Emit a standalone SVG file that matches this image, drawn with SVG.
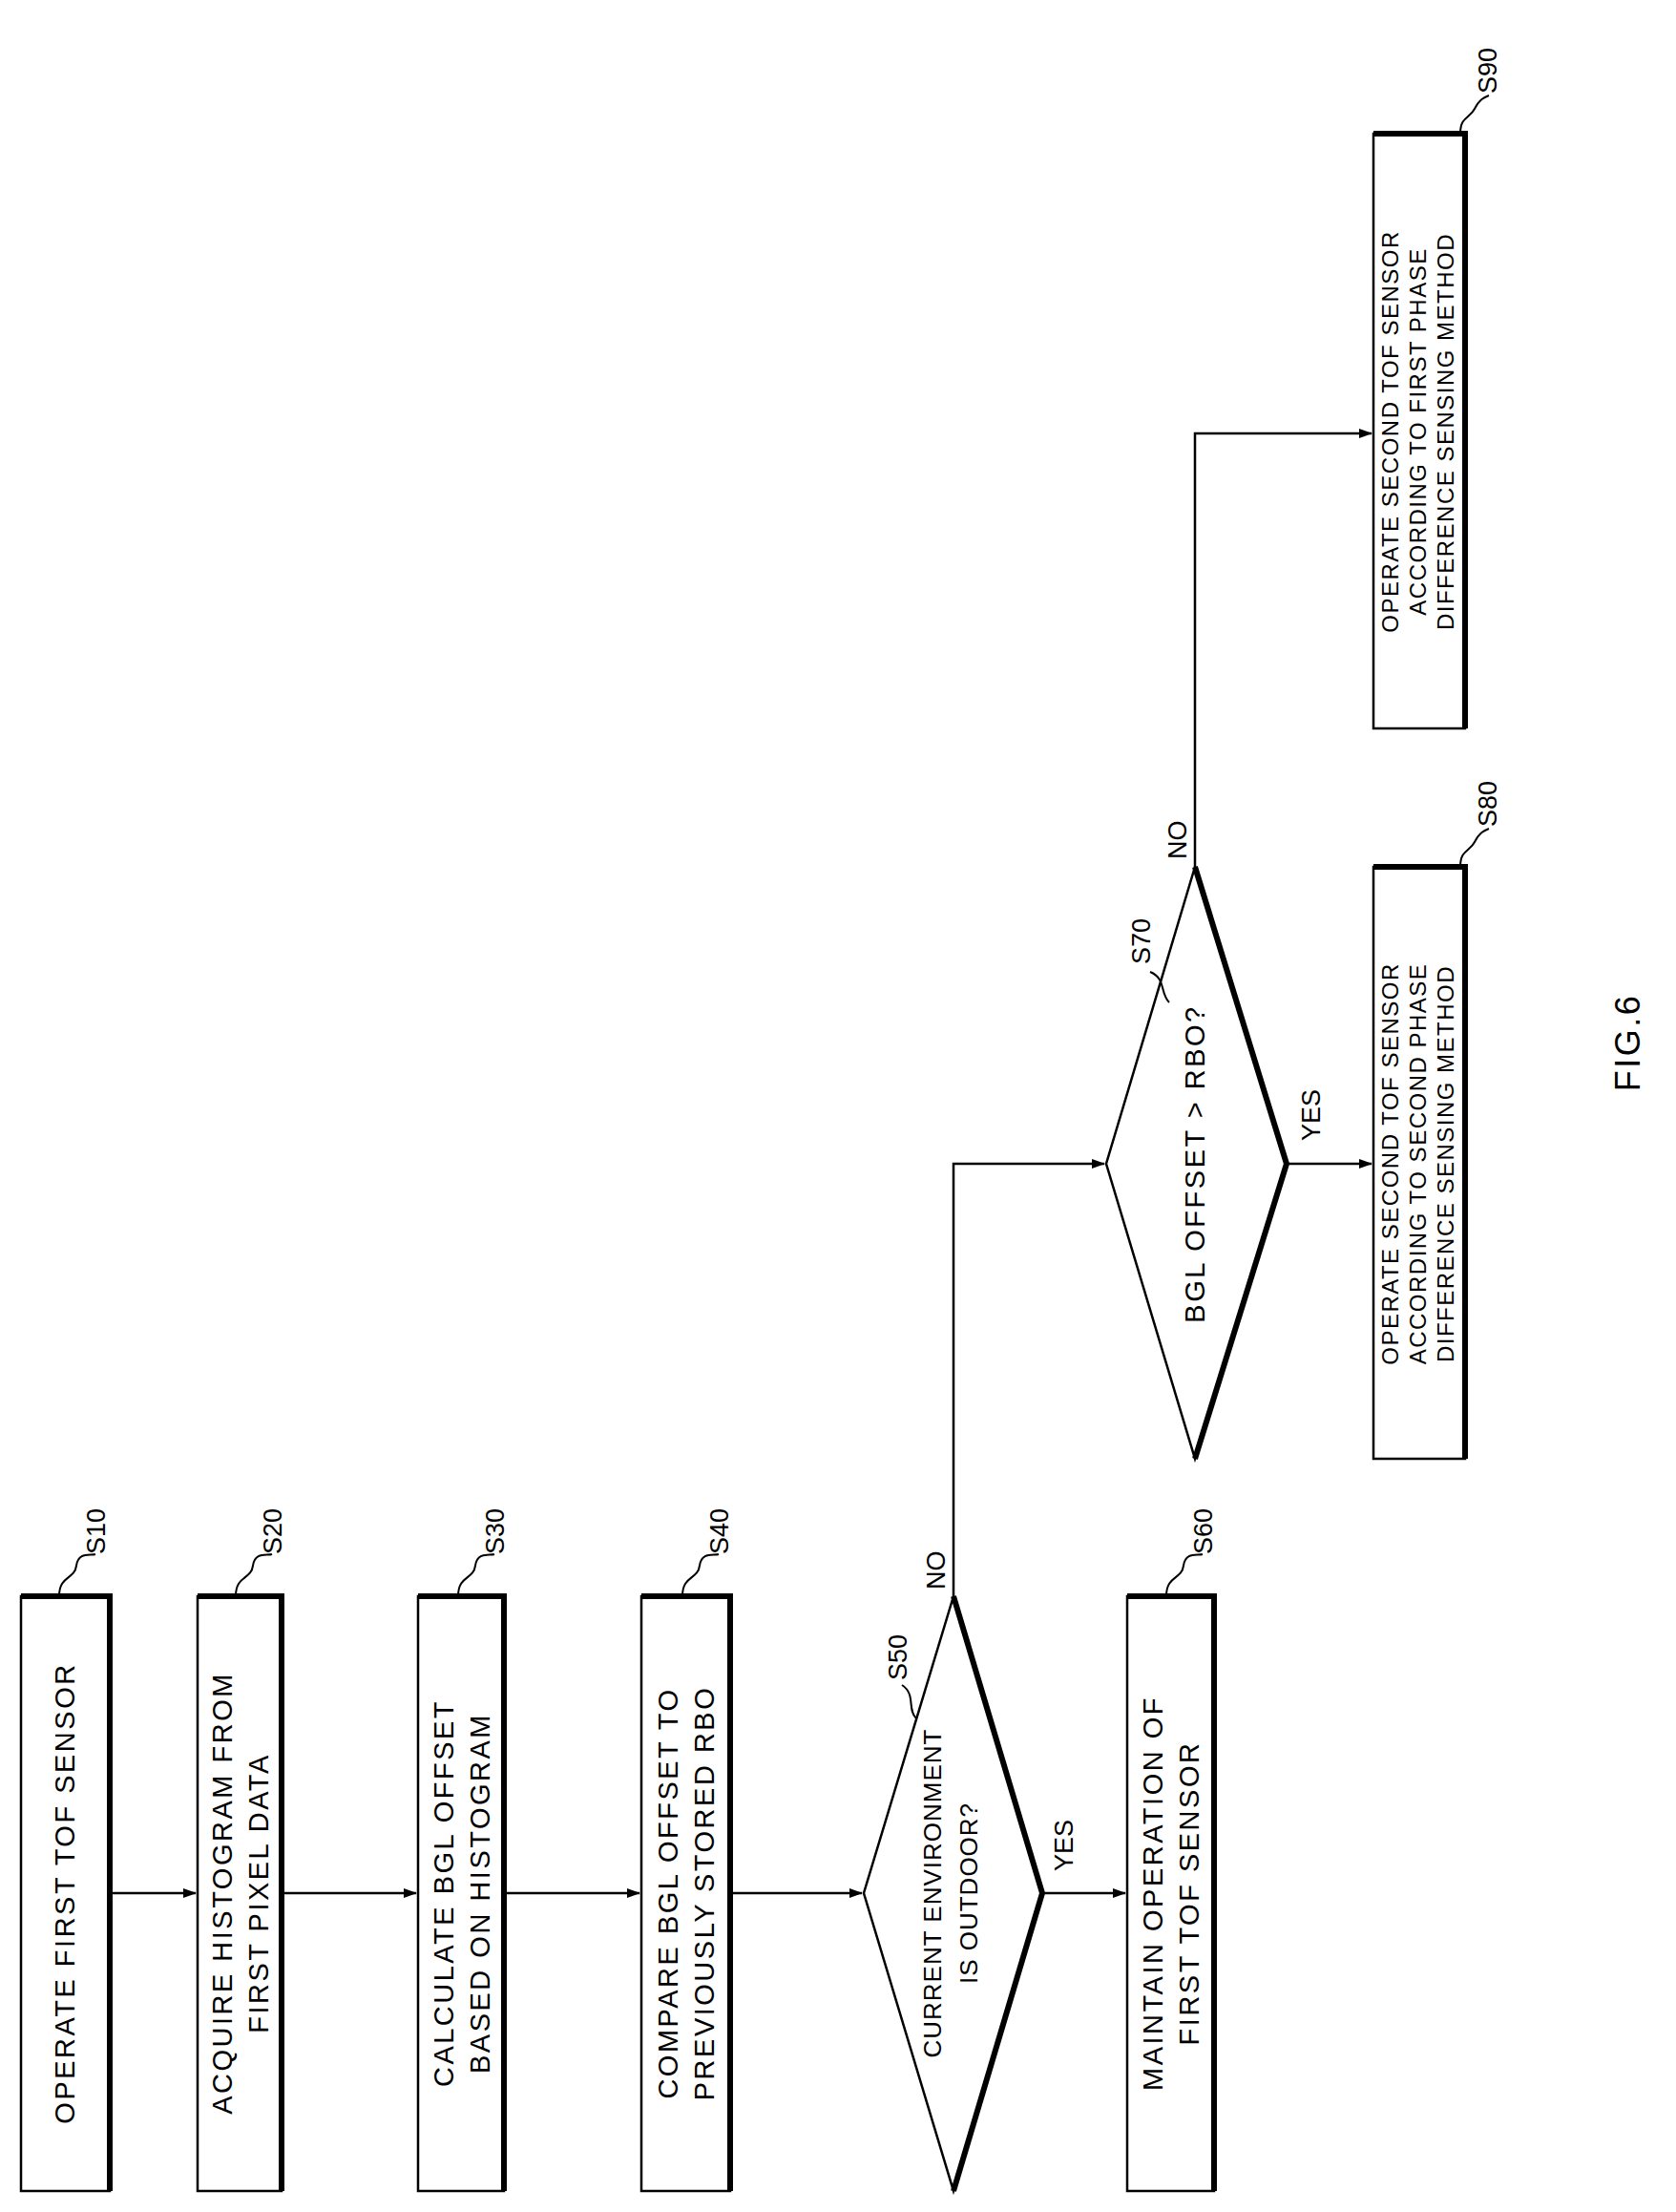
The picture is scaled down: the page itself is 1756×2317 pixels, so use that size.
<svg xmlns="http://www.w3.org/2000/svg" width="1756" height="2317" viewBox="0 0 1756 2317">
<style>
.b{fill:#fff;stroke:#000;stroke-width:2.5}
.sh{fill:none;stroke:#000;stroke-width:6}
.t{font-family:"Liberation Sans",Arial,sans-serif;font-size:29px;letter-spacing:2.5px;fill:#000}
.t2{font-family:"Liberation Sans",Arial,sans-serif;font-size:24px;letter-spacing:1.5px;fill:#000}
.s{font-family:"Liberation Sans",Arial,sans-serif;font-size:27px;fill:#000}
.c{fill:none;stroke:#000;stroke-width:2.5}
.ld{fill:none;stroke:#000;stroke-width:2}
</style>
<defs><marker id="a" markerWidth="14" markerHeight="10" refX="13" refY="5" orient="auto" markerUnits="userSpaceOnUse"><path d="M0,0 L14,5 L0,10 Z" fill="#000"/></marker></defs>
<rect width="1756" height="2317" fill="#fff"/>
<g id="connectors">
<line class="c" x1="115" y1="1983" x2="205" y2="1983" marker-end="url(#a)"/>
<line class="c" x1="295" y1="1983" x2="436" y2="1983" marker-end="url(#a)"/>
<line class="c" x1="528" y1="1983" x2="670" y2="1983" marker-end="url(#a)"/>
<line class="c" x1="765" y1="1983" x2="903" y2="1983" marker-end="url(#a)"/>
<line class="c" x1="1092" y1="1983" x2="1179" y2="1983" marker-end="url(#a)"/>
<polyline class="c" points="999,1672 999,1219 1157,1219" marker-end="url(#a)"/>
<line class="c" x1="1348" y1="1219" x2="1437" y2="1219" marker-end="url(#a)"/>
<polyline class="c" points="1252,908 1252,454 1437,454" marker-end="url(#a)"/>
<text class="s" transform="translate(1124,1960) rotate(-90)">YES</text>
<text class="s" transform="translate(990,1665) rotate(-90)">NO</text>
<text class="s" transform="translate(1383,1195) rotate(-90)">YES</text>
<text class="s" transform="translate(1243,900) rotate(-90)">NO</text>
</g>
<g id="S10">
<rect class="b" x="22" y="1672" width="93" height="623"/><polyline class="sh" points="22,1672 115,1672 115,2295"/>
<text class="t" text-anchor="middle" transform="translate(68,1983) rotate(-90)" dy="10">OPERATE FIRST TOF SENSOR</text>
<path class="ld" d="M62,1672 C62,1650 78,1655 80,1640 S95,1630 100,1628"/><text class="s" transform="translate(110,1628) rotate(-90)">S10</text>
</g>
<g id="S20">
<rect class="b" x="207" y="1672" width="88" height="623"/><polyline class="sh" points="207,1672 295,1672 295,2295"/>
<text class="t" text-anchor="middle" transform="translate(251,1983) rotate(-90)"><tspan x="0" dy="-8">ACQUIRE HISTOGRAM FROM</tspan><tspan x="0" dy="38">FIRST PIXEL DATA</tspan></text>
<path class="ld" d="M247,1672 C247,1650 263,1655 265,1640 S280,1630 285,1628"/><text class="s" transform="translate(295,1628) rotate(-90)">S20</text>
</g>
<g id="S30">
<rect class="b" x="438" y="1672" width="90" height="623"/><polyline class="sh" points="438,1672 528,1672 528,2295"/>
<text class="t" text-anchor="middle" transform="translate(483,1983) rotate(-90)"><tspan x="0" dy="-8">CALCULATE BGL OFFSET</tspan><tspan x="0" dy="38">BASED ON HISTOGRAM</tspan></text>
<path class="ld" d="M480,1672 C480,1650 496,1655 498,1640 S513,1630 518,1628"/><text class="s" transform="translate(528,1628) rotate(-90)">S30</text>
</g>
<g id="S40">
<rect class="b" x="672" y="1672" width="93" height="623"/><polyline class="sh" points="672,1672 765,1672 765,2295"/>
<text class="t" text-anchor="middle" transform="translate(718,1983) rotate(-90)"><tspan x="0" dy="-8">COMPARE BGL OFFSET TO</tspan><tspan x="0" dy="38">PREVIOUSLY STORED RBO</tspan></text>
<path class="ld" d="M715,1672 C715,1650 731,1655 733,1640 S748,1630 753,1628"/><text class="s" transform="translate(763,1628) rotate(-90)">S40</text>
</g>
<g id="S50">
<polygon class="b" points="999,1672 1092,1983 999,2295 905,1983"/><polyline class="sh" points="999,1672 1092,1983 999,2295"/>
<text class="t" style="font-size:26px;letter-spacing:1px" text-anchor="middle" transform="translate(996,1983) rotate(-90)"><tspan x="0" dy="-10">CURRENT ENVIRONMENT</tspan><tspan x="0" dy="38">IS OUTDOOR?</tspan></text>
<path class="ld" d="M960,1800 C950,1790 960,1775 945,1765"/><text class="s" transform="translate(950,1760) rotate(-90)">S50</text>
</g>
<g id="S60">
<rect class="b" x="1181" y="1672" width="91" height="623"/><polyline class="sh" points="1181,1672 1272,1672 1272,2295"/>
<text class="t" text-anchor="middle" transform="translate(1226,1983) rotate(-90)"><tspan x="0" dy="-8">MAINTAIN OPERATION OF</tspan><tspan x="0" dy="38">FIRST TOF SENSOR</tspan></text>
<path class="ld" d="M1222,1672 C1222,1650 1238,1655 1240,1640 S1255,1630 1260,1628"/><text class="s" transform="translate(1270,1628) rotate(-90)">S60</text>
</g>
<g id="S70">
<polygon class="b" points="1252,908 1348,1219 1252,1528 1159,1219"/><polyline class="sh" points="1252,908 1348,1219 1252,1528"/>
<text class="t" text-anchor="middle" transform="translate(1252,1219) rotate(-90)" dy="10">BGL OFFSET &gt; RBO?</text>
<path class="ld" d="M1225,1050 C1215,1040 1222,1025 1205,1018"/><text class="s" transform="translate(1205,1010) rotate(-90)">S70</text>
</g>
<g id="S80">
<rect class="b" x="1439" y="908" width="96" height="620"/><polyline class="sh" points="1439,908 1535,908 1535,1528"/>
<text class="t2" text-anchor="middle" transform="translate(1485,1219) rotate(-90)"><tspan x="0" dy="-20">OPERATE SECOND TOF SENSOR</tspan><tspan x="0" dy="29">ACCORDING TO SECOND PHASE</tspan><tspan x="0" dy="29">DIFFERENCE SENSING METHOD</tspan></text>
<path class="ld" d="M1530,908 C1530,890 1540,892 1545,882 S1555,870 1560,868"/><text class="s" transform="translate(1568,866) rotate(-90)">S80</text>
</g>
<g id="S90">
<rect class="b" x="1439" y="140" width="96" height="623"/><polyline class="sh" points="1439,140 1535,140 1535,763"/>
<text class="t2" text-anchor="middle" transform="translate(1485,452) rotate(-90)"><tspan x="0" dy="-20">OPERATE SECOND TOF SENSOR</tspan><tspan x="0" dy="29">ACCORDING TO FIRST PHASE</tspan><tspan x="0" dy="29">DIFFERENCE SENSING METHOD</tspan></text>
<path class="ld" d="M1530,140 C1530,122 1540,124 1545,114 S1555,102 1560,100"/><text class="s" transform="translate(1568,98) rotate(-90)">S90</text>
</g>
<text class="t" style="font-size:36px" text-anchor="middle" transform="translate(1718,1092) rotate(-90)">FIG.6</text>
</svg>
